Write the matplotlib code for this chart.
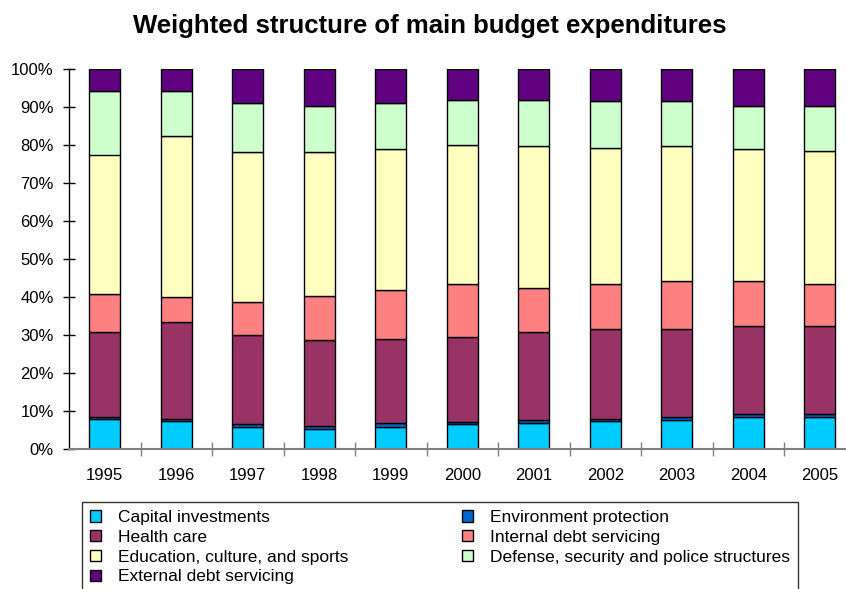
import numpy as np
import matplotlib
matplotlib.use('Agg')
import matplotlib.pyplot as plt
from matplotlib.patches import Patch

years = ['1995', '1996', '1997', '1998', '1999', '2000',
         '2001', '2002', '2003', '2004', '2005']

# shares of total expenditures, %
capital = [7.8, 7.4, 5.7, 5.2, 5.9, 6.5, 6.8, 7.4, 7.6, 8.5, 8.5]
environment = [0.7, 0.5, 0.8, 0.8, 0.9, 0.7, 0.8, 0.6, 0.8, 0.7, 0.7]
health = [22.3, 25.4, 23.4, 22.6, 22.2, 22.2, 23.2, 23.7, 23.3, 23.2, 23.2]
internal_debt = [10.1, 6.8, 8.8, 11.7, 12.8, 14.0, 11.7, 11.7, 12.6, 11.9, 11.0]
education = [36.6, 42.2, 39.5, 37.9, 37.1, 36.7, 37.2, 35.8, 35.4, 34.6, 35.0]
defense = [16.8, 12.0, 12.9, 12.0, 12.2, 11.7, 12.1, 12.3, 11.8, 11.3, 11.8]
external_debt = [5.7, 5.7, 8.9, 9.8, 8.9, 8.2, 8.2, 8.5, 8.5, 9.8, 9.8]

series = [
    ('Capital investments', capital, '#00CCFF'),
    ('Environment protection', environment, '#0066CC'),
    ('Health care', health, '#993366'),
    ('Internal debt servicing', internal_debt, '#FF8080'),
    ('Education, culture, and sports', education, '#FFFFC0'),
    ('Defense, security and police structures', defense, '#CCFFCC'),
    ('External debt servicing', external_debt, '#600080'),
]

plt.rcParams['font.family'] = ['Liberation Sans', 'DejaVu Sans']

W, H = 846, 589
fig = plt.figure(figsize=(W / 100, H / 100), dpi=100)
ax = fig.add_axes([69 / W, (H - 449) / H, 786.5 / W, 380 / H])

x = np.arange(len(years))
year_sum = np.sum([np.array(s[1]) for s in series], axis=0)
totals = np.zeros(len(years))
for name, vals, color in series:
    # 100% stacked: normalise each year to its total
    share = np.array(vals) / year_sum * 100
    ax.bar(x, share, 0.434, bottom=totals, color=color,
           edgecolor='black', linewidth=1.0, label=name)
    totals += share

ax.set_xlim(-0.5, len(years) - 0.5)
ax.set_ylim(0, 100)
ax.set_yticks(np.arange(0, 101, 10))
ax.set_yticklabels([f'{v}%' for v in range(0, 101, 10)])
ax.set_xticks(x)
ax.set_xticklabels(years)
ax.set_xticks(x[:-1] + 0.5, minor=True)

ax.tick_params(axis='y', direction='inout', length=8, width=1,
               color='black', labelsize=12, pad=7)
ax.tick_params(axis='x', which='major', length=0, labelsize=12, pad=14)
ax.tick_params(axis='x', which='minor', direction='inout', length=10,
               width=1, color='#808080')

for side in ('top', 'right'):
    ax.spines[side].set_visible(False)
ax.spines['bottom'].set_color('#808080')
ax.spines['bottom'].set_linewidth(1.5)
ax.spines['left'].set_color('black')
ax.spines['left'].set_linewidth(1.0)

fig.text(430 / W, 1 - 33 / H, 'Weighted structure of main budget expenditures',
         ha='center', va='baseline', fontsize=18.5, fontweight='bold')

# legend is filled row by row: two columns
handles = [Patch(facecolor=c, edgecolor='black', linewidth=1.0, label=n)
           for n, _, c in series]
order = [0, 2, 4, 6, 1, 3, 5]
leg = fig.legend([handles[i] for i in order],
                 [handles[i].get_label() for i in order],
                 ncol=2, loc='upper left', mode='expand',
                 bbox_to_anchor=(82 / W, 0, 716 / W, 1 - 502 / H),
                 bbox_transform=fig.transFigure, borderaxespad=0,
                 fontsize=12.5, frameon=True, fancybox=False,
                 edgecolor='black', handlelength=0.65, handleheight=0.65,
                 handletextpad=1.0, labelspacing=0.28, borderpad=0.45)
leg.get_frame().set_linewidth(1.0)

fig.savefig('out.png', dpi=100)
